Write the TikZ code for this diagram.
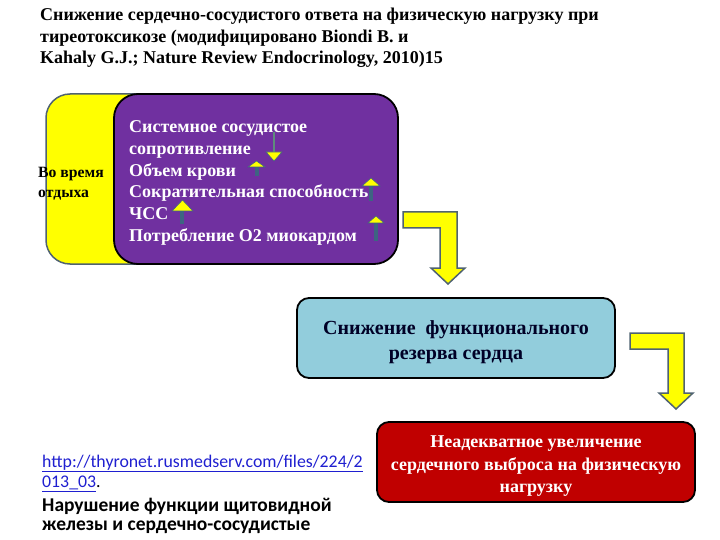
\documentclass[tikz,border=0pt]{standalone}
\usepackage{fontspec}
\setmainfont{Liberation Serif}
\newfontfamily\calfont{Carlito}
\definecolor{ppl}{HTML}{7030A0}
\definecolor{ylw}{HTML}{FFFF00}
\definecolor{lblue}{HTML}{92CDDC}
\definecolor{dred}{HTML}{C00000}
\definecolor{agray}{HTML}{4F6270}
\definecolor{shaftup}{HTML}{3E6482}
\definecolor{shaftdn}{HTML}{5E8C7C}
\definecolor{urlblue}{HTML}{1F1FD0}
\tikzset{
  ttl/.style={anchor=base west,inner sep=0pt,font=\bfseries\fontsize{18}{21}\selectfont},
  ptxt/.style={anchor=base west,inner sep=0pt,text=white,font=\bfseries\fontsize{18}{21}\selectfont},
  ytxt/.style={anchor=base west,inner sep=0pt,font=\bfseries\fontsize{15.7}{18}\selectfont},
  btxt/.style={anchor=base,inner sep=0pt,text=black!85!blue,font=\bfseries\fontsize{20}{24}\selectfont},
  rtxt/.style={anchor=base,inner sep=0pt,text=white,font=\bfseries\fontsize{18}{21}\selectfont},
  ctxt/.style={anchor=base west,inner sep=0pt,font=\calfont\fontsize{17.8}{20}\selectfont},
  cbold/.style={anchor=base west,inner sep=0pt,font=\calfont\bfseries\fontsize{19.5}{22}\selectfont},
  bentarrow/.style={fill=ylw,draw=agray,line width=1.5pt,line join=miter},
  uparrow/.style={draw=shaftup,line width=3.5pt},
  dnarrow/.style={draw=shaftdn,line width=2.5pt},
  smhead/.style={fill=ylw,draw=shaftup,line width=0.6pt},
}
\begin{document}
\begin{tikzpicture}[x=1pt,y=-1pt]
\useasboundingbox (0,0) rectangle (720,540);
% title
\node[ttl] (t1) at (40,21) {Снижение сердечно-сосудистого ответа на физическую нагрузку при};
\node[ttl] (t2) at (40,43) {тиреотоксикозе (модифицировано Biondi B. и};
\node[ttl] (t3) at (40,64) {Kahaly G.J.; Nature Review Endocrinology, 2010)15};
% yellow box
\draw[fill=ylw,draw=agray,line width=1.5pt,rounded corners=24pt] (46,94) rectangle (320,264);
\node[ytxt] (y1) at (38,178) {Во время};
\node[ytxt] (y2) at (38,197) {отдыха};
% purple box
\draw[fill=ppl,draw=black,line width=1.8pt,rounded corners=24pt] (114,94) rectangle (398,264);
\node[ptxt] (p1) at (129,133) {Системное сосудистое};
\node[ptxt] (p2) at (129,154.6) {сопротивление};
\node[ptxt] (p3) at (129,176.2) {Объем крови};
\node[ptxt] (p4) at (129,197.8) {Сократительная способность};
\node[ptxt] (p5) at (129,219.4) {ЧСС};
\node[ptxt] (p6) at (129,241) {Потребление О2 миокардом};
% small arrows
\draw[dnarrow] (274,132) -- (274,153);
\draw[smhead] (266,152) -- (282,152) -- (274,161) -- cycle;
\draw[uparrow] (257,167) -- (257,176);
\draw[smhead] (248,167) -- (265,167) -- (256.5,161) -- cycle;
\draw[uparrow] (371,186) -- (371,201);
\draw[smhead] (362,186) -- (380,186) -- (371,178) -- cycle;
\draw[uparrow] (182,210) -- (182,224);
\draw[smhead] (172,211) -- (193,211) -- (182.5,200) -- cycle;
\draw[uparrow] (376,223) -- (376,241);
\draw[smhead] (368,223) -- (384,223) -- (376,216) -- cycle;
% light blue box
\node[draw=black,line width=1.8pt,fill=lblue,rounded corners=12pt,minimum width=318pt,minimum height=80pt,inner sep=0pt] (lb) at (456,338) {};
\node[btxt] (b1) at (456,334) {Снижение\ \ функционального};
\node[btxt] (b2) at (456,359) {резерва сердца};
% red box
\node[draw=black,line width=1.8pt,fill=dred,rounded corners=12pt,minimum width=318pt,minimum height=80pt,inner sep=0pt] (rb) at (536,462) {};
\node[rtxt] (r1) at (536,447) {Неадекватное увеличение};
\node[rtxt] (r2) at (536,470) {сердечного выброса на физическую};
\node[rtxt] (r3) at (536,492) {нагрузку};
% bent arrows
\draw[bentarrow] (403,212) -- (457,212) -- (457,268) -- (465,268) -- (448,284) -- (431,268) -- (440,268) -- (440,228) -- (403,228) -- cycle;
\draw[bentarrow] (630,333) -- (684,333) -- (684,393) -- (693,393) -- (676,409) -- (659,393) -- (668,393) -- (668,349) -- (630,349) -- cycle;
% bottom-left text
\node[ctxt,text=urlblue] (u1) at (42,467) {\underline{http://thyronet.rusmedserv.com/files/224/2}};
\node[ctxt] (u2) at (42,487) {\textcolor{urlblue}{\underline{013\_03}}.};
\node[cbold] (c1) at (42,511) {Нарушение функции щитовидной};
\node[cbold] (c2) at (42,530) {железы и сердечно-сосудистые};
\end{tikzpicture}
\end{document}
